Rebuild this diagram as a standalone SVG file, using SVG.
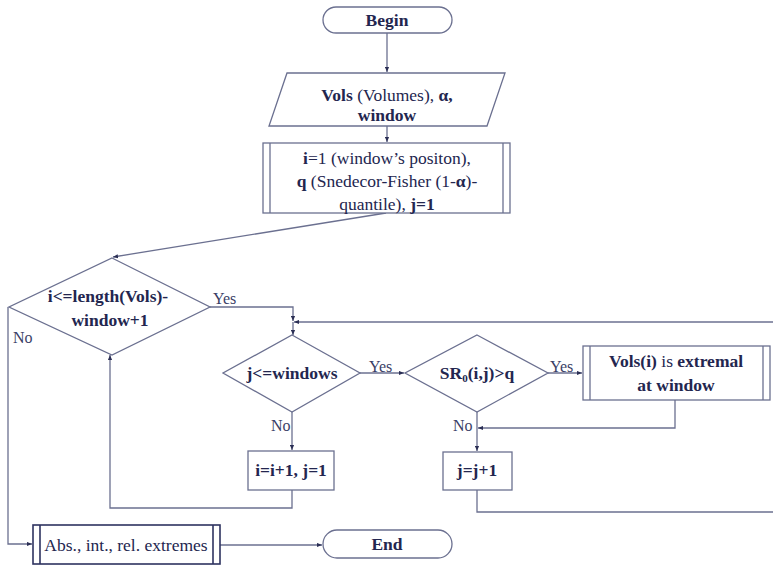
<svg xmlns="http://www.w3.org/2000/svg" width="773" height="566" viewBox="0 0 773 566">
  <defs>
    <marker id="arr" viewBox="0 0 6 6" refX="6" refY="3" markerWidth="5" markerHeight="5" orient="auto" markerUnits="userSpaceOnUse">
      <path d="M0,0.5 L6,3 L0,5.5 Z" fill="#2b2f55"/>
    </marker>
    <style>
      .shape { fill: #ffffff; stroke: #6b7090; stroke-width: 1.3; }
      .dark { stroke: #2e3360; stroke-width: 1.6; }
      .conn { fill: none; stroke: #6b7090; stroke-width: 1.3; }
      .t { fill: #23264f; text-anchor: middle; }
      .lbl { fill: #3a3e66; }
    </style>
  </defs>
  <rect width="773" height="566" fill="#ffffff"/>

  <!-- connectors -->
  <g id="connectors">
    <path class="conn" d="M387,33 V72" marker-end="url(#arr)"/>
    <path class="conn" d="M387,126 V142" marker-end="url(#arr)"/>
    <path class="conn" d="M386,213 L113,257" marker-end="url(#arr)"/>
    <path class="conn" d="M210,307 H293 V321" marker-end="url(#arr)"/>
    <path class="conn" d="M780,322 H294" marker-end="url(#arr)"/>
    <path class="conn" d="M293,322 V335" marker-end="url(#arr)"/>
    <path class="conn" d="M360,373 H404" marker-end="url(#arr)"/>
    <path class="conn" d="M548,373 H582" marker-end="url(#arr)"/>
    <path class="conn" d="M675,400 V428 H478" marker-end="url(#arr)"/>
    <path class="conn" d="M477,412 V451" marker-end="url(#arr)"/>
    <path class="conn" d="M477,490 V512 H780"/>
    <path class="conn" d="M292,412 V450" marker-end="url(#arr)"/>
    <path class="conn" d="M292,490 V508 H110 V355" marker-end="url(#arr)"/>
    <path class="conn" d="M8,307 V544 H32" marker-end="url(#arr)"/>
    <path class="conn" d="M220,545 H322" marker-end="url(#arr)"/>
    <text class="lbl" font-family="Liberation Serif" font-size="16" x="213" y="304">Yes</text>
    <text class="lbl" font-family="Liberation Serif" font-size="16" x="13" y="343">No</text>
    <text class="lbl" font-family="Liberation Serif" font-size="16" x="369" y="372">Yes</text>
    <text class="lbl" font-family="Liberation Serif" font-size="16" x="550" y="372">Yes</text>
    <text class="lbl" font-family="Liberation Serif" font-size="16" x="271" y="431">No</text>
    <text class="lbl" font-family="Liberation Serif" font-size="16" x="453" y="431">No</text>
  </g>

  <g id="begin">
    <rect class="shape" x="323" y="7" width="129" height="26" rx="13"/>
    <text class="t" font-family="Liberation Serif" font-size="17.5" font-weight="bold" x="387" y="26">Begin</text>
  </g>

  <g id="input">
    <polygon class="shape" points="287,73 505,73 487,126 269,126"/>
    <text class="t" font-family="Liberation Serif" font-size="17.5" x="387" y="101"><tspan font-weight="bold">Vols</tspan> (Volumes), <tspan font-weight="bold">α,</tspan></text>
    <text class="t" font-family="Liberation Serif" font-size="17.5" font-weight="bold" x="387" y="121">window</text>
  </g>

  <g id="init">
    <rect class="shape" x="263" y="143" width="247" height="70"/>
    <line class="shape" x1="270" y1="143" x2="270" y2="213"/>
    <line class="shape" x1="503" y1="143" x2="503" y2="213"/>
    <text class="t" font-family="Liberation Serif" font-size="17.5" x="387" y="164"><tspan font-weight="bold">i</tspan>=1 (window’s positon),</text>
    <text class="t" font-family="Liberation Serif" font-size="17.5" x="387" y="187"><tspan font-weight="bold">q</tspan> (Snedecor-Fisher (1-<tspan font-weight="bold">α</tspan>)-</text>
    <text class="t" font-family="Liberation Serif" font-size="17.5" x="387" y="210">quantile), <tspan font-weight="bold">j=1</tspan></text>
  </g>

  <g id="cond-i">
    <polygon class="shape" points="112,258 210,307 112,355 9,307"/>
    <text class="t" font-family="Liberation Serif" font-size="17.5" font-weight="bold" x="108" y="302">i&lt;=length(Vols)-</text>
    <text class="t" font-family="Liberation Serif" font-size="17.5" font-weight="bold" x="110" y="326">window+1</text>
  </g>

  <g id="cond-j">
    <polygon class="shape" points="292,335 360,373 292,412 223,373"/>
    <text class="t" font-family="Liberation Serif" font-size="17.5" font-weight="bold" x="292" y="379">j&lt;=windows</text>
  </g>

  <g id="cond-sr">
    <polygon class="shape" points="477,335 548,373 477,412 405,373"/>
    <text class="t" font-family="Liberation Serif" font-size="17.5" font-weight="bold" x="477" y="379">SR<tspan font-size="11" dy="3">0</tspan><tspan dy="-3">(i,j)&gt;q</tspan></text>
  </g>

  <g id="extremal">
    <rect class="shape" x="583" y="346" width="187" height="54"/>
    <line class="shape" x1="590" y1="346" x2="590" y2="400"/>
    <line class="shape" x1="763" y1="346" x2="763" y2="400"/>
    <text class="t" font-family="Liberation Serif" font-size="17.5" x="676" y="367"><tspan font-weight="bold">Vols(i)</tspan> is <tspan font-weight="bold">extremal</tspan></text>
    <text class="t" font-family="Liberation Serif" font-size="17.5" font-weight="bold" x="676" y="391">at window</text>
  </g>

  <g id="inc-j">
    <rect class="shape" x="443" y="452" width="69" height="38"/>
    <text class="t" font-family="Liberation Serif" font-size="17.5" font-weight="bold" x="477" y="476">j=j+1</text>
  </g>

  <g id="inc-i">
    <rect class="shape" x="248" y="451" width="86" height="39"/>
    <text class="t" font-family="Liberation Serif" font-size="17.5" font-weight="bold" x="291" y="476">i=i+1, j=1</text>
  </g>

  <g id="result">
    <rect class="shape dark" x="33" y="525" width="187" height="39"/>
    <line class="shape dark" x1="40" y1="525" x2="40" y2="564"/>
    <line class="shape dark" x1="213" y1="525" x2="213" y2="564"/>
    <text class="t" font-family="Liberation Serif" font-size="17.5" x="126" y="551">Abs., int., rel. extremes</text>
  </g>

  <g id="end">
    <rect class="shape" x="323" y="530" width="129" height="28" rx="14"/>
    <text class="t" font-family="Liberation Serif" font-size="17.5" font-weight="bold" x="387" y="550">End</text>
  </g>
</svg>
